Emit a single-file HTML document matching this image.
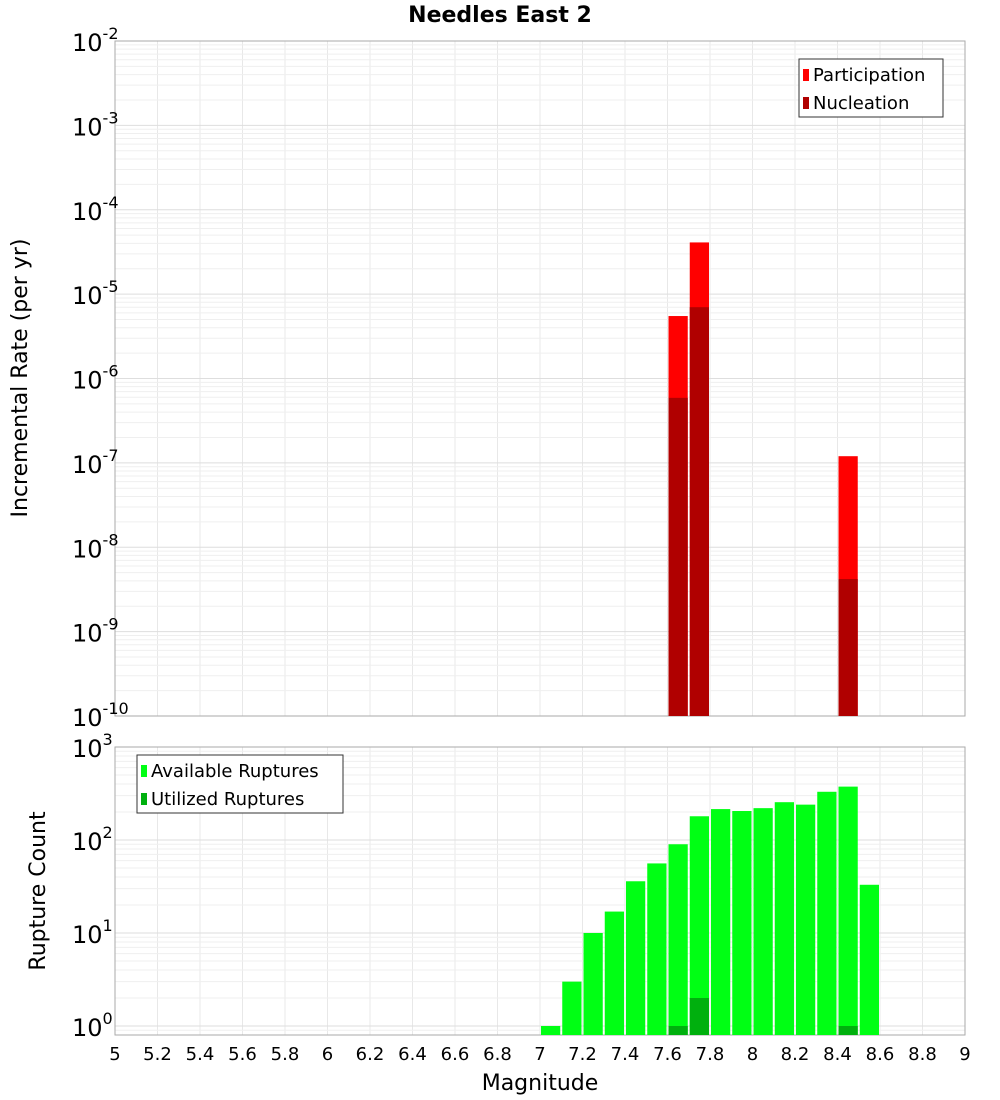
<!DOCTYPE html>
<html><head><meta charset="utf-8"><style>body{margin:0;background:#fff}svg{display:block;font-family:"DejaVu Sans","Liberation Sans",sans-serif}</style></head>
<body>
<svg id="c" width="1000" height="1100"></svg>
<script>
const binCenters=[7.05,7.15,7.25,7.35,7.45,7.55,7.65,7.75,7.85,7.95,8.05,8.15,8.25,8.35,8.45,8.55];
const availableCounts=[1,3,10,17,36,56,90,180,215,205,220,255,240,330,375,33];
const utilizedMags=[7.65,7.75,8.45];
const utilizedCounts=[1,2,1];
const rateMags=[7.65,7.75,8.45];
const participationRates=[5.5e-6,4.1e-5,1.2e-7];
const nucleationRates=[5.9e-7,7e-6,4.2e-9];
const xTicks=[5,5.2,5.4,5.6,5.8,6,6.2,6.4,6.6,6.8,7,7.2,7.4,7.6,7.8,8,8.2,8.4,8.6,8.8,9];
const topExps=[-2,-3,-4,-5,-6,-7,-8,-9,-10];
const botExps=[3,2,1,0];

const svg=document.getElementById('c');const NS='http://www.w3.org/2000/svg';
function mk(t,a,p,txt){const e=document.createElementNS(NS,t);for(const k in a)e.setAttribute(k,a[k]);if(txt!==undefined)e.textContent=txt;(p||svg).appendChild(e);return e;}
const L=115,R=965;
const X=v=>L+(v-5)/4*(R-L);
const T0=41,T1=716;const Yt=v=>T0+(-2-Math.log10(v))*(T1-T0)/8;
const B0=747,B1=1035;const DB=93;const Yb=v=>B0+(3-Math.log10(v))*DB;
const bw=X(5.1)-X(5)-2;

function grid(y0,y1,yf,eMin,eMax,name){
 const g=mk('g',{});
 for(const t of xTicks){mk('line',{x1:X(t),x2:X(t),y1:y0,y2:y1,stroke:'#e8e8e8'},g);}
 for(let e=eMin;e<eMax;e++)for(let m=1;m<10;m++){const y=yf(m*Math.pow(10,e));if(y>=y0&&y<=y1)mk('line',{x1:L,x2:R,y1:y,y2:y,stroke:m==1?'#dedede':'#efefef'},g);}
 mk('rect',{x:L,y:y0,width:R-L,height:y1-y0,fill:'none',stroke:'#aaa'},g);
}
grid(T0,T1,Yt,-10,-1,'top-plot-grid');
grid(B0,B1,Yb,-1,3,'bottom-plot-grid');

mk('text',{x:500,y:22,'text-anchor':'middle','font-size':22,'font-weight':'bold',},null,'Needles East 2');

// top bars
rateMags.forEach((m,i)=>{
 let r=mk('rect',{x:X(m)-bw/2,y:Yt(participationRates[i]),width:bw,height:T1-Yt(participationRates[i]),fill:'#ff0000'});
 
 r=mk('rect',{x:X(m)-bw/2,y:Yt(nucleationRates[i]),width:bw,height:T1-Yt(nucleationRates[i]),fill:'#b00000'});
 
});
// bottom bars
binCenters.forEach((m,i)=>{
 const r=mk('rect',{x:X(m)-bw/2,y:Yb(availableCounts[i]),width:bw,height:B1-Yb(availableCounts[i]),fill:'#00ff14'});
 
});
utilizedMags.forEach((m,i)=>{
 const r=mk('rect',{x:X(m)-bw/2,y:Yb(utilizedCounts[i]),width:bw,height:B1-Yb(utilizedCounts[i]),fill:'#00b00e'});
 
});

// y tick labels
function expLabel(x,y,e,name){const t=mk('text',{x:x,y:y,'font-size':24,});
 mk('tspan',{},t,'10');mk('tspan',{dy:-12,'font-size':16},t,String(e));}
topExps.forEach(e=>expLabel(72,Yt(Math.pow(10,e))+10,e,'top-y-tick'));
botExps.forEach(e=>expLabel(72,Yb(Math.pow(10,e))+10,e,'bottom-y-tick'));
// x ticks
xTicks.forEach(t=>{mk('text',{x:X(t),y:1060,'text-anchor':'middle','font-size':18,},null,String(t));});
mk('text',{x:540,y:1090,'text-anchor':'middle','font-size':22,},null,'Magnitude');
mk('text',{x:0,y:0,transform:'translate(27,378) rotate(-90)','text-anchor':'middle','font-size':22,},null,'Incremental Rate (per yr)');
mk('text',{x:0,y:0,transform:'translate(45,891) rotate(-90)','text-anchor':'middle','font-size':22,},null,'Rupture Count');

// legends
function legend(x,y,w,items,name){const g=mk('g',{});
 mk('rect',{x:x,y:y,width:w,height:58,fill:'#fff',stroke:'#333'},g);
 items.forEach((it,i)=>{mk('rect',{x:x+4,y:y+10+i*28,width:6,height:12,fill:it[1]},g);
  mk('text',{x:x+14,y:y+22+i*28,'font-size':18},g,it[0]);});}
legend(799,59,144,[['Participation','#ff0000'],['Nucleation','#b00000']],'top-legend');
legend(137,755,206,[['Available Ruptures','#00ff14'],['Utilized Ruptures','#00b00e']],'bottom-legend');
</script>
</body></html>
